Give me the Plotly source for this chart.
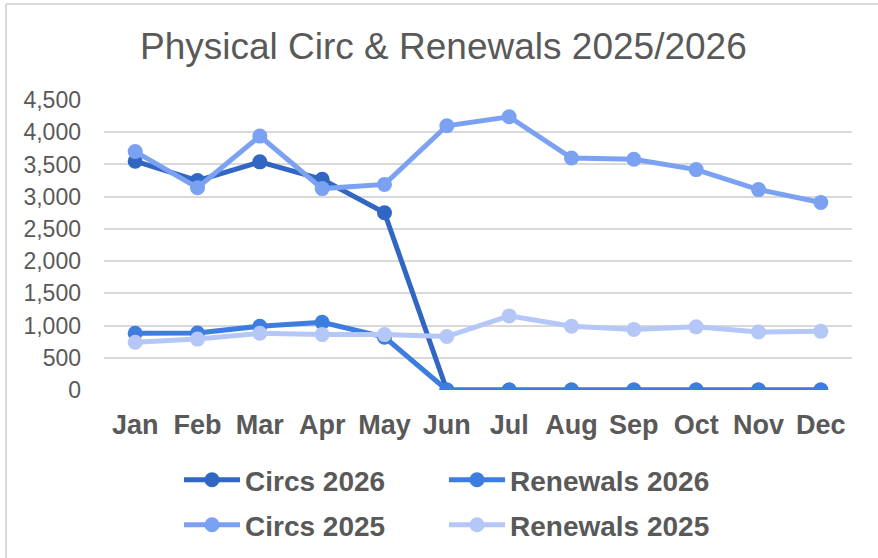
import plotly.graph_objects as go

months = ["Jan", "Feb", "Mar", "Apr", "May", "Jun", "Jul", "Aug", "Sep", "Oct", "Nov", "Dec"]
circs_2026 = [3550, 3250, 3540, 3270, 2750, 0, 0, 0, 0, 0, 0, 0]
renewals_2026 = [880, 885, 990, 1050, 820, 0, 0, 0, 0, 0, 0, 0]
circs_2025 = [3700, 3140, 3940, 3125, 3190, 4100, 4240, 3600, 3580, 3420, 3110, 2910]
renewals_2025 = [740, 790, 880, 860, 860, 830, 1150, 990, 940, 980, 900, 910]
y_ticks = [0, 500, 1000, 1500, 2000, 2500, 3000, 3500, 4000, 4500]

series = [
    ("Circs 2026", circs_2026, "#3166C3", "legend"),
    ("Renewals 2026", renewals_2026, "#3D7DE0", "legend"),
    ("Circs 2025", circs_2025, "#7BA1F2", "legend2"),
    ("Renewals 2025", renewals_2025, "#B4C7F7", "legend2"),
]

fig = go.Figure()
for name, vals, color, lg in series:
    fig.add_trace(go.Scatter(
        x=months, y=vals, name=name, mode="lines+markers",
        line=dict(color=color, width=5),
        marker=dict(color=color, size=15),
        legend=lg,
    ))

FONT = "Liberation Sans, Arial, sans-serif"
GRAY = "#595959"

ITEMW = 56
legend_common = dict(
    orientation="h", xanchor="left", yanchor="middle",
    itemwidth=ITEMW,
    entrywidth=265 - (ITEMW + 10) - 5, entrywidthmode="pixels",
    font=dict(family=FONT, size=28, color=GRAY, weight="bold"),
    bgcolor="rgba(0,0,0,0)", tracegroupgap=0, itemclick=False,
)
LEG_X = (245 - (ITEMW + 10) - 104) / 748

fig.update_layout(
    width=878, height=558,
    margin=dict(l=104, r=26, t=100, b=168, autoexpand=False),
    paper_bgcolor="white", plot_bgcolor="white",
    font=dict(family=FONT, color=GRAY),
    title=dict(
        text="Physical Circ &amp; Renewals 2025/2026",
        font=dict(family=FONT, size=37, color=GRAY),
        xref="container", x=0.505, xanchor="center",
        yref="container", y=0.918, yanchor="middle",
    ),
    xaxis=dict(
        type="category", range=[-0.5, 11.5],
        showgrid=False, showline=False, zeroline=False,
        ticks="", tickfont=dict(family=FONT, size=27, color=GRAY, weight="bold"),
        ticklabelstandoff=16,
    ),
    yaxis=dict(
        range=[0, 4500], tickvals=y_ticks, tickformat=",d",
        showgrid=True, gridcolor="#D9D9D9", gridwidth=1.5,
        zeroline=False, showline=False, ticks="",
        tickfont=dict(family=FONT, size=23, color=GRAY),
        ticklabelstandoff=22,
    ),
    legend=dict(x=LEG_X, y=-(480 - 390) / 290, **legend_common),
    legend2=dict(x=LEG_X, y=-(525 - 390) / 290, **legend_common),
    showlegend=True,
    shapes=[
        dict(type="line", xref="paper", yref="paper",
             x0=-0.131, x1=1.2, y0=(390 - 4) / 290, y1=(390 - 4) / 290,
             line=dict(color="#D9D9D9", width=2)),
        dict(type="line", xref="paper", yref="paper",
             x0=-0.131, x1=-0.131, y0=(390 - 4) / 290, y1=-1,
             line=dict(color="#D9D9D9", width=2)),
    ],
)

fig.write_html("out.html", config={"displayModeBar": False},
               post_script="document.body.style.margin='0';")
